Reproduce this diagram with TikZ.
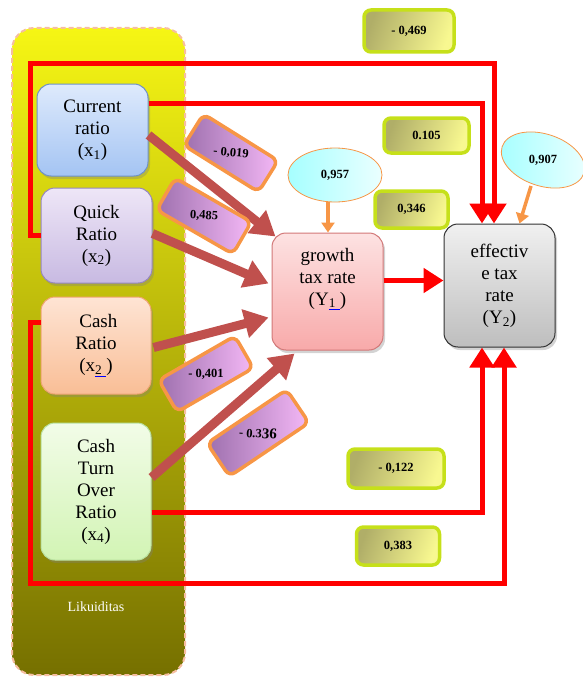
\documentclass[tikz,border=0pt]{standalone}
\usepackage{fontspec}
\setmainfont{Liberation Serif}
\usetikzlibrary{arrows.meta,shadows,shapes.geometric}
\definecolor{brownred}{HTML}{C0504D}
\definecolor{orangeA}{HTML}{F79646}
\definecolor{lblborder}{HTML}{C6E01A}
\definecolor{lbldark}{HTML}{B0AE68}
\definecolor{lbllight}{HTML}{F8F890}
\definecolor{purdark}{HTML}{9E70AE}
\definecolor{purlight}{HTML}{F4B8F6}
\tikzset{
  varbox/.style={rounded corners=14pt, minimum width=110pt, align=center, line width=1pt,
    font=\fontsize{19}{22}\selectfont, drop shadow={opacity=0.35, shadow xshift=2pt, shadow yshift=-3pt}},
  ylabel/.style={rounded corners=7pt, draw=lblborder, line width=3.5pt, left color=lbldark, middle color=lbllight!88!lbldark, right color=lbllight,
    shading angle=70, font=\bfseries\fontsize{12.5}{14}\selectfont, inner sep=0pt},
  plabel/.style={rounded corners=7pt, draw=orangeA, line width=3.5pt, left color=purdark, right color=purlight,
    font=\bfseries\fontsize{12.5}{14}\selectfont, inner sep=0pt, minimum width=88pt, minimum height=37pt},
  errell/.style={ellipse, draw=orangeA, line width=0.8pt, left color=cyan!35, right color=cyan!8,
    font=\bfseries\fontsize{12.5}{14}\selectfont, inner sep=0pt},
  redline/.style={draw=red, line width=5pt, -{Triangle[width=24pt,length=20pt]}},
  brownarrow/.style={draw=brownred, line width=9pt, -{Triangle[width=28pt,length=24pt]}},
  orangearrow/.style={draw=orangeA, line width=3.5pt, -{Triangle[width=13pt,length=10pt]}}
}
\begin{document}
\begin{tikzpicture}[x=1pt,y=-1pt]
\useasboundingbox (0,0) rectangle (582,677);
% container
\path[top color={rgb,255:red,246;green,246;blue,20}, bottom color={rgb,255:red,118;green,112;blue,0}, rounded corners=22pt]
  (12,28) rectangle (185,675);
\draw[draw={rgb,255:red,246;green,190;blue,160}, line width=2pt, dash pattern=on 5pt off 3pt, rounded corners=22pt]
  (12,28) rectangle (185,675);
\node[text=white, font=\fontsize{14}{16}\selectfont] (lik) at (96,607) {Likuiditas};

% variable boxes
\node[varbox, draw={rgb,255:red,110;green,145;blue,200}, top color={rgb,255:red,222;green,234;blue,252}, bottom color={rgb,255:red,164;green,196;blue,243}, minimum width=111pt, minimum height=92pt] (cur) at (92.5,130) {Current\\ratio\\(x\textsubscript{1})};
\node[varbox, draw={rgb,255:red,150;green,135;blue,190}, top color={rgb,255:red,238;green,230;blue,247}, bottom color={rgb,255:red,200;green,186;blue,226}, minimum width=111pt, minimum height=95pt] (quick) at (96.5,235.5) {Quick\\Ratio\\(x\textsubscript{2})};
\node[varbox, draw={rgb,255:red,240;green,165;blue,115}, top color={rgb,255:red,254;green,228;blue,212}, bottom color={rgb,255:red,249;green,190;blue,150}, minimum width=110pt, minimum height=97pt] (cashr) at (96,345.5) {\ Cash\\Ratio\\(x{\color{blue}\underline{{\color{black}\textsubscript{2}}\hspace{4pt}}})};
\node[varbox, draw={rgb,255:red,185;green,225;blue,160}, top color={rgb,255:red,242;green,252;blue,232}, bottom color={rgb,255:red,210;green,244;blue,180}, minimum width=110pt, minimum height=137pt] (ctor) at (96,491.5) {Cash\\Turn\\Over\\Ratio\\(x\textsubscript{4})};
\node[varbox, draw={rgb,255:red,210;green,120;blue,120}, top color={rgb,255:red,253;green,226;blue,226}, bottom color={rgb,255:red,248;green,170;blue,170}, minimum width=111pt, minimum height=117pt] (grow) at (327.5,291.5) {growth\\tax rate\\(Y{\color{blue}\underline{{\color{black}\textsubscript{1}}\hspace{4pt}}})\\[8pt]};
\node[varbox, draw={rgb,255:red,50;green,50;blue,50}, top color={rgb,255:red,240;green,240;blue,240}, bottom color={rgb,255:red,190;green,190;blue,190}, minimum width=111pt, minimum height=123pt] (eff) at (499.5,285.5) {effectiv\\e tax\\rate\\(Y\textsubscript{2})};

% error ellipses
\node[errell, minimum width=94pt, minimum height=54pt] (e1) at (335,175) {0,957};
\node[errell, minimum width=86pt, minimum height=52pt, rotate=-18] (e2) at (543,160) {\rotatebox{18}{0,907}};
\draw[orangearrow] ([xshift=-7pt]e1.south) -- ([xshift=-7pt]e1.south |- grow.north);
\draw[orangearrow] (531,186) -- ([xshift=20pt]eff.north);

% red paths
\coordinate (t1) at (30,64);
\coordinate (b1) at (30,583);
\draw[redline] (quick.west) -| (t1) -| ([xshift=-5.5pt]eff.north);
\draw[redline] ([yshift=27pt]cur.east) -| ([xshift=-17.5pt]eff.north);
\draw[redline] ([yshift=11pt]grow.east) -- ([yshift=11pt]grow.east -| eff.west);
\draw[redline] ([yshift=23pt]cashr.west) -| (b1) -| ([xshift=4.5pt]eff.south);
\draw[redline] ([yshift=-20.5pt]ctor.east) -| ([xshift=-17.5pt]eff.south);

% brown arrows
\draw[brownarrow] ([yshift=-5pt]cur.east) -- ([xshift=4pt,yshift=-4pt]grow.north west);
\draw[brownarrow] ([yshift=2pt]quick.east) -- ([xshift=-3pt,yshift=8pt]grow.west);
\draw[brownarrow] ([xshift=2pt,yshift=-2pt]cashr.east) -- ([xshift=-3pt,yshift=-26pt]grow.west);
\draw[brownarrow] ([yshift=14pt]ctor.east) -- ([xshift=23pt,yshift=-3pt]grow.south west);

% path coefficient labels
\node[plabel, rotate=-32] (p1) at (231,153) {\rotatebox{27}{- 0,019}};
\node[plabel, rotate=-30] (p2) at (204,216) {\rotatebox{27}{0,485}};
\node[plabel, rotate=30] (p3) at (206,374) {\rotatebox{-30}{- 0,401}};
\node[plabel, rotate=34, minimum width=96pt, minimum height=40pt] (p4) at (258,433) {\rotatebox{-38}{- 0.3{\fontsize{15}{15}\selectfont 36}}};

\node[ylabel, minimum width=90pt, minimum height=42pt] (y1) at (409,31) {- 0,469};
\node[ylabel, minimum width=85pt, minimum height=35pt] (y2) at (426.5,135.5) {0.105};
\node[ylabel, minimum width=73pt, minimum height=37pt] (y3) at (411.5,209.5) {0,346};
\node[ylabel, minimum width=96pt, minimum height=39pt] (y4) at (396,468.5) {- 0,122};
\node[ylabel, minimum width=83pt, minimum height=38pt] (y5) at (398,546) {0,383};
\end{tikzpicture}
\end{document}
